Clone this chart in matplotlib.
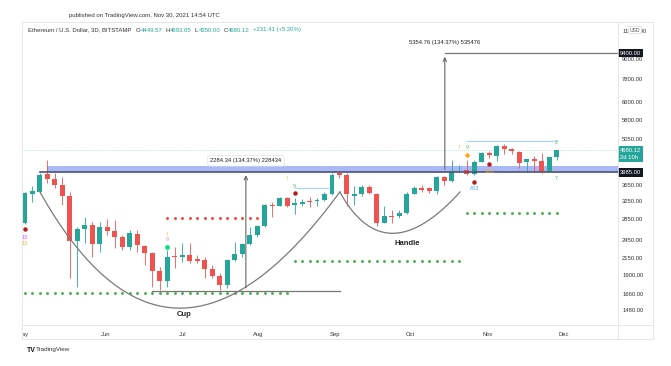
import numpy as np
import matplotlib
matplotlib.use('Agg')
import matplotlib.pyplot as plt
from matplotlib.transforms import blended_transform_factory, Bbox

plt.rcParams['font.family'] = ['Liberation Sans', 'DejaVu Sans']

# ETH/USD 3D candles, bar 0 = Apr 30 2021 ... bar 71 = Nov 30 2021
opens = [2767, 3420, 3470, 3930, 3800, 3640, 3360, 2430, 2650, 2730, 2380, 2690,
         2610, 2500, 2330, 2560, 2340, 2230, 1960, 1820, 2180, 2170, 2200, 2140,
         2120, 1990, 1890, 1770, 2120, 2210, 2380, 2540, 2710, 3160, 3130, 3310,
         3150, 3180, 3240, 3240, 3260, 3410, 3960, 3910, 3370, 3400, 3590, 3420,
         2770, 2910, 2900, 2970, 3420, 3560, 3550, 3480, 3860, 3740, 4040, 4060,
         3950, 4290, 4580, 4470, 4800, 4710, 4610, 4280, 4400, 4330, 4030, 4449.57]
highs = [3450, 3600, 3966, 4354, 3960, 3850, 3470, 2690, 2880, 2790, 2790, 2850,
         2830, 2540, 2630, 2630, 2360, 2250, 2020, 2280, 2330, 2400, 2400, 2200,
         2160, 2050, 1930, 2130, 2410, 2400, 2680, 2730, 3170, 3230, 3340, 3340,
         3310, 3290, 3340, 3310, 3470, 3970, 4000, 3970, 3600, 3640, 3640, 3430,
         3130, 3040, 3040, 3470, 3600, 3640, 3590, 3880, 3890, 4350, 4200, 4350,
         4340, 4600, 4640, 4850, 4870, 4760, 4660, 4400, 4470, 4580, 4450, 4693.05]
lows = [2740, 3230, 3430, 3680, 3560, 3150, 1860, 1750, 2400, 2170, 2250, 2540,
        2320, 2280, 2280, 2250, 2050, 1750, 1710, 1740, 2000, 2090, 2080, 2080,
        1860, 1860, 1710, 1730, 2100, 2170, 2360, 2500, 2690, 2890, 3120, 3110,
        2950, 3130, 3100, 3130, 3240, 3390, 3830, 3130, 3150, 3370, 3400, 2700,
        2760, 2770, 2870, 2950, 3400, 3470, 3430, 3420, 3640, 3720, 3990, 3900,
        3910, 4280, 4410, 4320, 4560, 4560, 4100, 4000, 4000, 3960, 4000, 4350.00]
closes = [3434, 3480, 3909, 3800, 3640, 3360, 2430, 2650, 2730, 2380, 2690, 2610,
          2500, 2330, 2570, 2360, 2230, 1960, 1820, 2170, 2160, 2200, 2110, 2110,
          1990, 1890, 1770, 2120, 2210, 2380, 2540, 2710, 3150, 3120, 3310, 3130,
          3200, 3230, 3220, 3270, 3410, 3910, 3910, 3410, 3420, 3590, 3440, 2770,
          2910, 2880, 2970, 3420, 3560, 3510, 3480, 3860, 3750, 4000, 4060, 3940,
          4290, 4580, 4500, 4800, 4720, 4630, 4250, 4400, 4330, 4030, 4440, 4680.12]

month_labels = ['May', 'Jun', 'Jul', 'Aug', 'Sep', 'Oct', 'Nov', 'Dec']
month_pos = [-0.3, 10.7, 21.0, 31.1, 41.4, 51.5, 61.8, 72.0]
price_ticks = [11000, 9000, 7800, 6600, 5800, 5050, 3650, 3250, 2850,
               2450, 2150, 1900, 1660, 1480]

# resistance zone and measured moves
zone_low, zone_high = 3985, 4170
cup_low = 1700.66
target = 9339.76
target_line = 9400
measure1_x, measure2_x = 29.5, 56.07
last_price = 4680.12

# cup and handle anchor points (bar, price): start, bottom, end
cup_x = [2.0, 20.7, 42.05]
cup_y = [3460, 1500, 3460]
handle_x = [42.05, 49.1, 58.1]
handle_y = [3460, 2570, 3460]

# TD dotted support/resistance levels: price, first bar, last bar, colour
dot_levels = [(1669, 0, 35, '#4caf50'), (2878, 19, 31, '#f44336'),
              (2106, 36, 58, '#4caf50'), (2968, 59, 71, '#4caf50')]
tdst_lines = [(3560, 36, 40.5), (5003, 59, 71)]

up, down = '#26a69a', '#ef5350'
W, H = 671, 366

fig = plt.figure(figsize=(W / 100, H / 100), dpi=100)
fig.patch.set_facecolor('white')
ax = fig.add_axes([22 / W, 1 - 325 / H, (618 - 22) / W, (325 - 22) / H])
ax.set_yscale('log')
ax.set_xlim(-0.4, 79.2)
ax.set_ylim(1328.5, 11752)
for s in ax.spines.values():
    s.set_visible(False)

# candles
idx = np.arange(len(opens))
o, h, l, c = map(np.array, (opens, highs, lows, closes))
cols = np.where(c >= o, up, down)
ax.vlines(idx, l, h, colors=cols, lw=0.6, zorder=3)
bottoms = np.minimum(o, c)
heights = np.maximum(np.abs(c - o), bottoms * 0.006)
ax.bar(idx, heights, bottom=bottoms, width=0.66, color=cols, lw=0, zorder=4)

# resistance zone
ax.fill_between([3.0, 79.2], zone_low, zone_high, color='#a9b8f6', lw=0, zorder=2)
ax.plot([2.0, 79.2], [zone_low, zone_low], color='#4f5270', lw=1.2, zorder=5)

# current price line
ax.axhline(last_price, color=up, lw=0.5, ls=(0, (1, 2)), alpha=0.6, zorder=1)

# dotted levels
for price, a, b, col in dot_levels:
    xs = np.arange(a, b + 1)
    ax.plot(xs, [price] * len(xs), ls='none', marker='o', ms=1.1, color=col, zorder=2)
for price, a, b in tdst_lines:
    ax.plot([a, b], [price, price], color='#a8d3f7', lw=0.9, zorder=2)


def arc(xs, ys):
    p0 = np.array([xs[0], np.log(ys[0])])
    p1 = np.array([xs[1], np.log(ys[1])])
    p2 = np.array([xs[2], np.log(ys[2])])
    ctrl = 2 * p1 - (p0 + p2) / 2
    t = np.linspace(0, 1, 120)[:, None]
    pts = (1 - t) ** 2 * p0 + 2 * t * (1 - t) * ctrl + t ** 2 * p2
    return pts[:, 0], np.exp(pts[:, 1])


for xs, ys in ((cup_x, cup_y), (handle_x, handle_y)):
    ax_, ay_ = arc(xs, ys)
    ax.plot(ax_, ay_, color='#7a7a7a', lw=0.9, zorder=5)

ax.text(21.2, 1428, 'Cup', fontsize=5.5, fontweight='bold', ha='center', va='center', color='#222')
ax.text(51.0, 2392, 'Handle', fontsize=5.5, fontweight='bold', ha='center', va='center', color='#222')

# measured moves
arrow = dict(arrowstyle='->,head_length=0.25,head_width=0.12', color='#666', lw=0.8)
ax.annotate('', xy=(measure1_x, zone_low), xytext=(measure1_x, cup_low), arrowprops=arrow, zorder=6)
ax.plot([16.9, 42.05], [cup_low, cup_low], color='#777', lw=0.9, zorder=6)
ax.text(measure1_x, 4332, '2284.34 (134.37%) 228434', fontsize=4.2, ha='center', va='center',
        color='#222', zorder=7,
        bbox=dict(boxstyle='round,pad=0.5', fc='white', ec='#dddddd', lw=0.4))
ax.annotate('', xy=(measure2_x, target), xytext=(measure2_x, zone_low), arrowprops=arrow, zorder=6)
ax.plot([measure2_x, 79.2], [target_line, target_line], color='#777', lw=0.9, zorder=6)
ax.text(measure2_x, 10126, '5354.76 (134.37%) 535476', fontsize=4.2, ha='center', va='center',
        color='#222', zorder=7)

# TD sequential markers
ax.plot([0, 36, 60, 62], [2651, 3442, 3725, 4240], ls='none', marker='o', ms=2.2,
        color='#b71c1c', zorder=6)
ax.plot([19], [2325], ls='none', marker='o', ms=2.4, color='#00e676', zorder=6)
ax.plot([59], [4514], ls='none', marker='D', ms=2.0, color='#ffa726', zorder=6)
marks = [(0, 2502, '13', '#e040fb'), (0, 2396, '13', '#ffa726'),
         (19, 2556, '!', '#ffa726'), (19, 2462, '9', '#f48fb1'),
         (35, 3798, '!', '#ffa726'), (36, 3611, '9', '#66bb6a'),
         (58, 4757, '!', '#ffa726'), (59, 4757, '9', '#66bb6a'),
         (60, 3535, 'A13', '#42a5f5'), (62, 3995, 'S13', '#ffa726'),
         (71, 4946, '2', '#66bb6a'), (71, 3798, '7', '#66bb6a')]
for mx, my, s, col in marks:
    ax.text(mx, my, s, fontsize=3.8, ha='center', va='center', color=col, zorder=7)

# axes
ax.yaxis.tick_right()
ax.set_yticks(price_ticks, labels=['%.2f' % p for p in price_ticks])
ax.yaxis.set_minor_locator(matplotlib.ticker.NullLocator())
ax.tick_params(axis='y', length=0, pad=3, labelsize=4.2, labelcolor='#333')
ax.set_xticks(month_pos, labels=month_labels)
ax.tick_params(axis='x', length=0, pad=5, labelsize=4.2, labelcolor='#333')
may = ax.get_xticklabels()[0]
may.set_clip_on(True)
may.set_clip_box(Bbox.from_extents(22.5, 0, W, H))

yblend = blended_transform_factory(ax.transAxes, ax.transData)
xo = 1 + 2 / 596
ax.text(xo, target_line, '9400.00', transform=yblend, fontsize=4.2, color='white', va='center',
        ha='left', zorder=10, clip_on=False,
        bbox=dict(boxstyle='square,pad=0.3', fc='#131722', ec='none'))
ax.text(xo, zone_low, '3985.00', transform=yblend, fontsize=4.2, color='white', va='center',
        ha='left', zorder=10, clip_on=False,
        bbox=dict(boxstyle='square,pad=0.3', fc='#131722', ec='none'))
ax.text(xo, 4546, '4680.12\n2d 10h', transform=yblend, fontsize=4.2, color='white', va='center',
        ha='left', zorder=10, clip_on=False, linespacing=1.3,
        bbox=dict(boxstyle='square,pad=0.35', fc=up, ec='none'))
fig.text(635 / W, 1 - 30 / H, 'USD', fontsize=3.6, color='#555', ha='center', va='center',
         bbox=dict(boxstyle='round,pad=0.25', fc='white', ec='#cccccc', lw=0.4), zorder=10)

# frame lines
frame = '#e0e3eb'
for x0, y0, x1, y1 in [(22, 22, 653, 22), (22, 325, 653, 325), (22, 339, 653, 339),
                       (618, 22, 618, 339), (653, 22, 653, 339), (22, 22, 22, 339)]:
    fig.add_artist(plt.Line2D([x0 / W, x1 / W], [1 - y0 / H, 1 - y1 / H], color=frame, lw=0.6))

# header
fig.text(69 / W, 1 - 15.5 / H, 'published on TradingView.com, Nov 30, 2021 14:54 UTC',
         fontsize=4.3, color='#333', va='center')
dark = '#333'
header = [('Ethereum / U.S. Dollar, 3D, BITSTAMP', dark, 4),
          ('O', dark, 0.5), ('4449.57', up, 3), ('H', dark, 0.5), ('4693.05', up, 3),
          ('L', dark, 0.5), ('4350.00', up, 3), ('C', dark, 0.5), ('4680.12', up, 3),
          ('+231.41 (+5.20%)', up, 0)]
renderer = fig.canvas.get_renderer()
hx = 28
for s, col, gap in header:
    t = fig.text(hx / W, 1 - 30 / H, s, fontsize=4.3, color=col, va='center')
    hx = t.get_window_extent(renderer).x1 + gap

fig.text(27 / W, 1 - 350 / H, 'TV', fontsize=5, fontweight='bold', color='#131722', va='center')
fig.text(36 / W, 1 - 350 / H, 'TradingView', fontsize=4.5, color='#333', va='center')

fig.savefig('out.png', dpi=100)
